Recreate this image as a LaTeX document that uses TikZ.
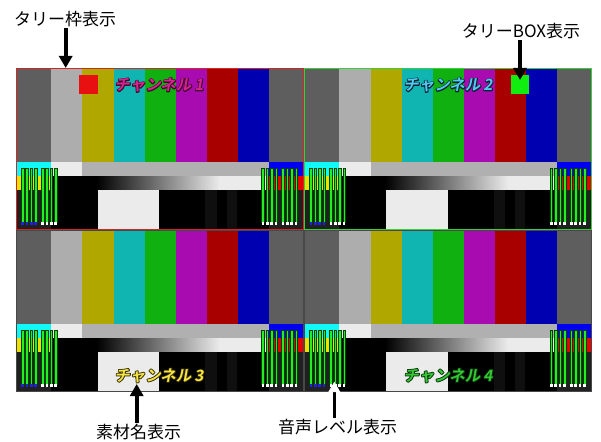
\documentclass[tikz,border=0pt]{standalone}
\usepackage{fontspec}
\newfontfamily\jpfont{Noto Sans CJK JP}
\newfontfamily\jpbold[FakeSlant=0.18]{Noto Sans CJK JP Bold}
\usetikzlibrary{arrows.meta}
\definecolor{cgray}{HTML}{5E5E5E}
\definecolor{clgray}{HTML}{ADADAD}
\definecolor{cyel}{HTML}{B0A800}
\definecolor{ccyan}{HTML}{10B4B0}
\definecolor{cgrn}{HTML}{10B010}
\definecolor{cmag}{HTML}{A80CB0}
\definecolor{cred}{HTML}{A80000}
\definecolor{cblu}{HTML}{0000B0}
\definecolor{brcyan}{HTML}{10F8F8}
\definecolor{cwhite}{HTML}{EBEBEB}
\definecolor{cmgray}{HTML}{B0B0B0}
\definecolor{brblue}{HTML}{0000F0}
\definecolor{bryel}{HTML}{F0E000}
\definecolor{brred}{HTML}{E80000}
\definecolor{cdark}{HTML}{202020}
\definecolor{pluge}{HTML}{0F0F0F}
\definecolor{mgreen}{HTML}{22EE22}
\definecolor{mdark}{HTML}{004000}
\definecolor{mblue}{HTML}{2020E0}
\definecolor{tallyred}{HTML}{E81010}
\definecolor{tallygrn}{HTML}{10EE10}
\definecolor{bordred}{HTML}{D02828}
\definecolor{bordgrn}{HTML}{38D038}
\definecolor{bordgray}{HTML}{484848}
\definecolor{ch1}{HTML}{D8228F}
\definecolor{ch2}{HTML}{50CAEE}
\definecolor{ch3}{HTML}{F4E444}
\definecolor{ch4}{HTML}{34C834}
% outlined glyphs: a stroke-only copy under the filled text; #1 = stroke colour "r g b"
\newcommand{\outlined}[2]{\rlap{\special{pdf:literal direct 1 Tr 1.7 w 1 j #1 RG}#2\special{pdf:literal direct 0 Tr}}#2}
\tikzset{
  annot/.style={font=\jpfont\fontsize{17}{19}\selectfont, inner sep=1pt, text=black},
  chtext/.style={font=\jpbold\fontsize{15.5}{18}\selectfont, inner sep=0pt},
  arr/.style={line width=3.6pt, -{Triangle[length=12pt,width=13pt]}},
  meterbar/.style={fill=mgreen, draw=mdark, line width=0.4pt},
}
% panel: x, y, border colour, colour of left-meter first group markers
\newcommand{\tvpanel}[4]{%
\begin{scope}[shift={(#1,#2)}]
  \fill[cgray]  (0,0) rectangle (35,94);
  \fill[clgray] (35,0) rectangle (66.5,94);
  \fill[cyel]   (66.5,0) rectangle (98,94);
  \fill[ccyan]  (98,0) rectangle (129,94);
  \fill[cgrn]   (129,0) rectangle (160,94);
  \fill[cmag]   (160,0) rectangle (191,94);
  \fill[cred]   (191,0) rectangle (222,94);
  \fill[cblu]   (222,0) rectangle (253,94);
  \fill[cgray]  (253,0) rectangle (288,94);
  \fill[brcyan] (0,94) rectangle (35,108);
  \fill[cwhite] (35,94) rectangle (66.5,108);
  \fill[cmgray] (66.5,94) rectangle (253,108);
  \fill[brblue] (253,94) rectangle (288,108);
  \fill[bryel]  (0,108) rectangle (35,121.5);
  \fill[black]  (35,108) rectangle (81,121.5);
  \shade[left color=black, right color=cwhite] (81,108) rectangle (204,121.5);
  \fill[cwhite] (204,108) rectangle (253,121.5);
  \fill[brred]  (253,108) rectangle (288,121.5);
  \fill[cdark]  (0,121.5) rectangle (288,161.5);
  \fill[black]  (35,121.5) rectangle (253,161.5);
  \fill[cwhite] (82,121.5) rectangle (143.5,161.5);
  \fill[pluge]  (189.5,121.5) rectangle (201,161.5);
  \fill[pluge]  (211,121.5) rectangle (221,161.5);
  \foreach \o in {0,4.4,8.8,13.2,20,24.4,28.8,33.2}{
    \draw[meterbar] (5.6+\o,100.3) rectangle ++(2.6,53.4);
    \draw[meterbar] (246+\o,100.3) rectangle ++(2.6,53.4);
    \fill[white] (246+\o,153.7) rectangle ++(2.6,2.8);
  }
  \foreach \o in {0,4.4,8.8,13.2}{\fill[#4] (5.6+\o,153.7) rectangle ++(2.6,2.8);}
  \foreach \o in {20,24.4,28.8,33.2}{\fill[white] (5.6+\o,153.7) rectangle ++(2.6,2.8);}
  \draw[#3, line width=1pt] (0.5,0.5) rectangle (287.5,161);
\end{scope}}
\begin{document}
\begin{tikzpicture}[x=1pt,y=-1pt]
\useasboundingbox (0,0) rectangle (601,441);
\fill[white] (0,0) rectangle (601,441);
\tvpanel{15.5}{68}{bordred}{mblue}
\tvpanel{304}{68}{bordgrn}{mblue}
\tvpanel{15.5}{230}{bordgray}{mblue}
\tvpanel{304}{230}{bordgray}{mblue}
% tally boxes
\node[fill=tallyred, minimum width=18.7pt, minimum height=19.3pt, inner sep=0pt] (tbox1) at (88.3,84.6) {};
\node[fill=tallygrn, minimum width=18.7pt, minimum height=19.3pt, inner sep=0pt] (tbox2) at (520,84.6) {};
% channel names
\node[chtext, text=ch1] (ch1) at (159,85) {\outlined{0.25 0.04 0.18}{チャンネル\kern3pt 1}};
\node[chtext, text=ch2] (ch2) at (448,85) {\outlined{0.04 0.12 0.2}{チャンネル\kern3pt 2}};
\node[chtext, text=ch3] (ch3) at (159,375.5) {\outlined{0.2 0.17 0.0}{チャンネル\kern3pt 3}};
\node[chtext, text=ch4] (ch4) at (448,375.5) {\outlined{0.03 0.2 0.03}{チャンネル\kern3pt 4}};
% annotations
\node[annot] (lab1) at (65,19) {タリー枠表示};
\node[annot] (lab2) at (521,31) {タリーBOX表示};
\node[annot] (lab3) at (138.5,432) {素材名表示};
\node[annot] (lab4) at (337.5,427) {音声レベル表示};
\coordinate (tip1) at (65.7,68);
\coordinate (tip2) at (520,80);
\coordinate (tip3) at (136.7,384);
\coordinate (tip4) at (334.3,381.7);
\coordinate (base4) at (334.3,392);
\draw[arr] (lab1.south -| tip1) -- (tip1);
\draw[arr] (lab2.south -| tip2) -- (tip2);
\draw[arr] (lab3.north -| tip3) -- (tip3);
\draw[line width=3.6pt] (lab4.north -| tip4) -- (base4);
\fill[white] ([xshift=-6pt]base4) -- ([xshift=6pt]base4) -- (tip4) -- cycle;
\end{tikzpicture}
\end{document}
